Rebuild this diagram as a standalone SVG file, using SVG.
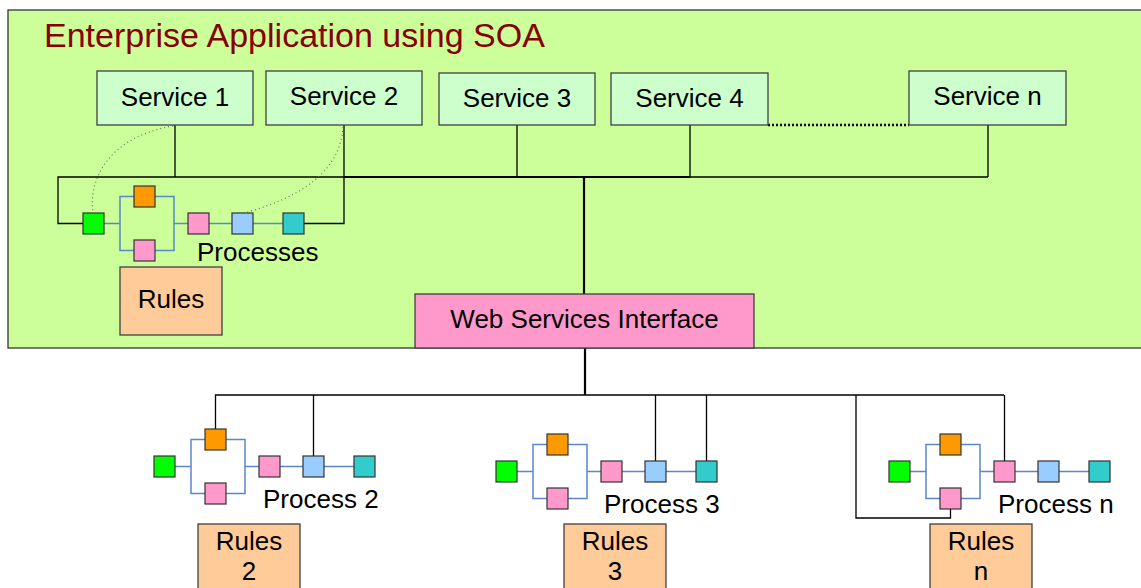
<svg xmlns="http://www.w3.org/2000/svg" xmlns:xlink="http://www.w3.org/1999/xlink" width="1141" height="588" viewBox="0 0 1141 588">
<style>
text{font-family:"Liberation Sans",Arial,sans-serif;fill:#000}
.lbl{font-size:26px}
.ctr{text-anchor:middle}
.box{stroke:#404040;stroke-width:1.3}
.svc{fill:#ccffcc}
.rules{fill:#ffcc99}
.sq{stroke:#333;stroke-width:1.2}
.bl{fill:none;stroke:#5a86cc;stroke-width:1.5}
.c{fill:none;stroke:#000;stroke-width:1.3}
.ck{fill:none;stroke:#000;stroke-width:2.2}
.dot{fill:none;stroke:#5f7f5f;stroke-width:1.2;stroke-dasharray:1 3}
</style>
<defs>
<g id="proc">
<path class="bl" d="M21,10.5H37M51,-16.5H37V37.5H51M72,-16.5H91V37.5H72M91,10.5H105M126,10.5H149M170,10.5H200"/>
<rect class="sq" x="0" y="0" width="21" height="21" fill="#00ff00"/>
<rect class="sq" x="51" y="-27" width="21" height="21" fill="#ff9900"/>
<rect class="sq" x="51" y="27" width="21" height="21" fill="#ff99cc"/>
<rect class="sq" x="105" y="0" width="21" height="21" fill="#ff99cc"/>
<rect class="sq" x="149" y="0" width="21" height="21" fill="#99ccff"/>
<rect class="sq" x="200" y="0" width="21" height="21" fill="#33cccc"/>
</g>
</defs>
<rect width="1141" height="588" fill="#fff"/>
<g id="enterprise">
<rect x="8" y="10" width="1140" height="338" fill="#ccff99" stroke="#333" stroke-width="1.3"/>
<text x="44" y="47" style="font-size:34px;fill:#880000">Enterprise Application using SOA</text>
</g>
<g id="connectors">
<path class="c" d="M175,125V177M344,125V177M517,125V177M690,125V177M988,125V177M690,177H988"/>
<path class="c" d="M83,223.5H58V177H344V223.5H304"/>
<path class="ck" d="M344,177H690M584,177V294"/>
<path d="M768,125H909" fill="none" stroke="#000" stroke-width="2.5" stroke-dasharray="2 2"/>
<path class="dot" d="M173,126C112,136 88,176 93,213"/>
<path class="dot" d="M343,127C340,176 292,200 244,213"/>
<path class="ck" d="M585,348V395"/>
<path class="c" style="stroke-width:1.6" d="M215,395H1004"/>
<path class="c" d="M215.5,395V429M313.5,395V456M655.5,395V461M706.5,395V461M1004.5,395V461M856,395V518H950.5V509"/>
</g>
<g id="service1"><rect class="box svc" x="97" y="71" width="156" height="54"/><text class="lbl ctr" x="175" y="106">Service 1</text></g>
<g id="service2"><rect class="box svc" x="266" y="71" width="156" height="54"/><text class="lbl ctr" x="344" y="105">Service 2</text></g>
<g id="service3"><rect class="box svc" x="439" y="73" width="156" height="52"/><text class="lbl ctr" x="517" y="107">Service 3</text></g>
<g id="service4"><rect class="box svc" x="611" y="73" width="157" height="52"/><text class="lbl ctr" x="689.5" y="107">Service 4</text></g>
<g id="serviceN"><rect class="box svc" x="909" y="71" width="157" height="54"/><text class="lbl ctr" x="987.5" y="105">Service n</text></g>
<g id="processes"><use xlink:href="#proc" x="83" y="213"/><text class="lbl" x="197" y="261">Processes</text></g>
<g id="rules"><rect class="box rules" x="120" y="267" width="102" height="68"/><text class="lbl ctr" x="171" y="308">Rules</text></g>
<g id="wsi"><rect class="box" x="415" y="294" width="339" height="54" fill="#ff99cc"/><text class="lbl ctr" x="584.5" y="328">Web Services Interface</text></g>
<g id="process2"><use xlink:href="#proc" x="154" y="456"/><text class="lbl" x="263" y="508">Process 2</text></g>
<g id="process3"><use xlink:href="#proc" x="496" y="461"/><text class="lbl" x="604" y="513">Process 3</text></g>
<g id="processN"><use xlink:href="#proc" x="889" y="461"/><text class="lbl" x="998" y="513">Process n</text></g>
<g id="rules2"><rect class="box rules" x="198" y="524" width="102" height="80"/><text class="lbl ctr" x="249" y="550">Rules</text><text class="lbl ctr" x="249" y="580">2</text></g>
<g id="rules3"><rect class="box rules" x="564" y="524" width="102" height="80"/><text class="lbl ctr" x="615" y="550">Rules</text><text class="lbl ctr" x="615" y="580">3</text></g>
<g id="rulesN"><rect class="box rules" x="930" y="524" width="102" height="80"/><text class="lbl ctr" x="981" y="550">Rules</text><text class="lbl ctr" x="981" y="580">n</text></g>
</svg>
